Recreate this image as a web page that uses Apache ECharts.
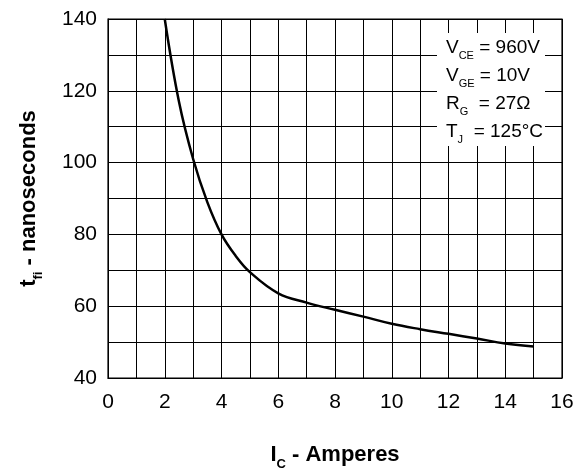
<!DOCTYPE html>
<html>
<head>
<meta charset="utf-8">
<script src="https://cdn.jsdelivr.net/npm/echarts@6/dist/echarts.min.js"></script>
<style>html,body{margin:0;padding:0;background:#fff;}#c{width:576px;height:470px;}</style>
</head>
<body>
<div id="c"></div>
<script>
const currentA = [2, 2.5, 3, 3.5, 4, 4.5, 5, 6, 7, 8, 9, 10, 11, 12, 13, 14, 15];
const fallNs = [140, 117, 101, 89, 80, 74, 69.5, 63.6, 61, 59, 57.1, 55.1, 53.6, 52.3, 51, 49.6, 48.8];
const xTicks = [0, 2, 4, 6, 8, 10, 12, 14, 16];
const yTicks = [40, 60, 80, 100, 120, 140];
const conditions = [
  ['V', 'CE', ' = 960V'],
  ['V', 'GE', ' = 10V'],
  ['R', 'G', '  = 27\u03A9'],
  ['T', 'J', '  = 125\u00B0C']
];

const chart = echarts.init(document.getElementById('c'));
const F = 'Liberation Sans, Arial, sans-serif';
const rich = {
  m: { fontSize: 19, fontFamily: F, color: '#000', lineHeight: 28, verticalAlign: 'bottom' },
  s: { fontSize: 11, fontFamily: F, color: '#000', lineHeight: 28, verticalAlign: 'bottom', padding: [0, 0, -4, 0] }
};
const graphics = [{
  type: 'rect', left: 437, top: 33, z: 9,
  shape: { width: 108, height: 113 },
  style: { fill: '#fff' }
}].concat(conditions.map((c, i) => ({
  type: 'text',
  left: 446,
  top: 38 + i * 28,
  z: 10,
  style: {
    text: '{m|' + c[0] + '}{s|' + c[1] + '}{m|' + c[2] + '}',
    rich: rich
  }
})));
const nameRich = {
  b: { fontSize: 22, fontWeight: 'bold', fontFamily: F, color: '#000', lineHeight: 28, verticalAlign: 'bottom' },
  bs: { fontSize: 13, fontWeight: 'bold', fontFamily: F, color: '#000', lineHeight: 28, verticalAlign: 'bottom', padding: [0, 0, -5, 0] }
};
chart.setOption({
  animation: false,
  backgroundColor: '#fff',
  grid: { left: 108, right: 14, top: 19, bottom: 92, containLabel: false, outerBoundsMode: 'none',
    show: true, borderColor: '#000', borderWidth: 1.2 },
  xAxis: {
    type: 'value', min: 0, max: 16, interval: 1,
    name: '{b|I}{bs|C}{b| - Amperes}', nameLocation: 'middle', nameGap: 60,
    nameTextStyle: { rich: nameRich },
    axisLine: { show: true, lineStyle: { color: '#000' } },
    axisTick: { show: false },
    splitLine: { show: true, lineStyle: { color: '#000', width: 1 } },
    axisLabel: { fontSize: 21, fontFamily: F, color: '#000', margin: 14,
      formatter: v => xTicks.includes(v) ? String(v) : '' }
  },
  yAxis: {
    type: 'value', min: 40, max: 140, interval: 10,
    name: '{b|t}{bs|fi}{b| - nanoseconds}', nameLocation: 'middle', nameGap: 68,
    nameTextStyle: { rich: nameRich },
    axisLine: { show: true, lineStyle: { color: '#000' } },
    axisTick: { show: false },
    splitLine: { show: true, lineStyle: { color: '#000', width: 1 } },
    axisLabel: { fontSize: 21, fontFamily: F, color: '#000', margin: 11,
      formatter: v => yTicks.includes(v) ? String(v) : '' }
  },
  series: [{
    type: 'line', smooth: 0.4, symbol: 'none',
    data: currentA.map((x, i) => [x, fallNs[i]]),
    lineStyle: { color: '#000', width: 2.5 }
  }],
  graphic: graphics
});
</script>
</body>
</html>
